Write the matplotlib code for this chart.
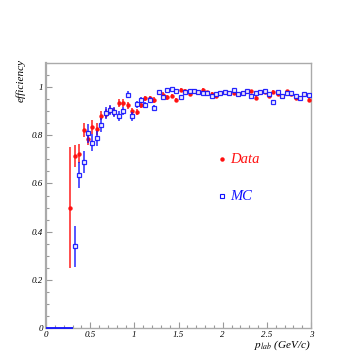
"""
efficiency vs p_lab, data vs MC
"""

import numpy as np
import matplotlib.pyplot as plt
from matplotlib.ticker import MultipleLocator

# bin centres (GeV/c)
p_data = [0.275, 0.325, 0.375, 0.425, 0.475, 0.525, 0.575, 0.625, 0.675, 0.725,
          0.775, 0.825, 0.875, 0.925, 0.975, 1.025, 1.075, 1.125, 1.175, 1.225,
          1.275, 1.325, 1.375, 1.425, 1.475, 1.525, 1.575, 1.625, 1.675, 1.725,
          1.775, 1.825, 1.875, 1.925, 1.975, 2.025, 2.075, 2.125, 2.175, 2.225,
          2.275, 2.325, 2.375, 2.425, 2.475, 2.525, 2.575, 2.625, 2.675, 2.725,
          2.775, 2.825, 2.875, 2.925, 2.975]
eff_data = [0.500, 0.714, 0.724, 0.821, 0.783, 0.835, 0.826, 0.882, 0.890, 0.905,
            0.896, 0.933, 0.933, 0.925, 0.901, 0.897, 0.925, 0.953, 0.953, 0.947,
            0.980, 0.969, 0.957, 0.964, 0.945, 0.989, 0.984, 0.971, 0.983, 0.978,
            0.989, 0.978, 0.971, 0.961, 0.975, 0.978, 0.975, 0.975, 0.971, 0.975,
            0.983, 0.983, 0.953, 0.978, 0.980, 0.961, 0.980, 0.970, 0.964, 0.983,
            0.971, 0.953, 0.953, 0.970, 0.947]
err_data = [0.250, 0.045, 0.040, 0.030, 0.025, 0.030, 0.025, 0.020, 0.020, 0.018,
            0.018, 0.016, 0.016, 0.015, 0.014, 0.014, 0.013, 0.012, 0.012, 0.011,
            0.009, 0.009, 0.009, 0.008, 0.008, 0.008, 0.008, 0.008, 0.007, 0.007,
            0.007, 0.007, 0.007, 0.007, 0.007, 0.007, 0.007, 0.007, 0.007, 0.007,
            0.007, 0.007, 0.008, 0.007, 0.007, 0.008, 0.007, 0.008, 0.008, 0.007,
            0.008, 0.008, 0.008, 0.008, 0.008]

p_mc = p_data[1:]
eff_mc = [0.340, 0.635, 0.690, 0.808, 0.770, 0.787, 0.843, 0.894, 0.905, 0.896,
          0.881, 0.901, 0.968, 0.878, 0.929, 0.946, 0.926, 0.947, 0.915, 0.980,
          0.959, 0.989, 0.992, 0.985, 0.960, 0.978, 0.985, 0.985, 0.980, 0.975,
          0.975, 0.964, 0.971, 0.975, 0.978, 0.975, 0.989, 0.971, 0.975, 0.983,
          0.964, 0.975, 0.980, 0.985, 0.970, 0.940, 0.978, 0.964, 0.975, 0.975,
          0.964, 0.953, 0.970, 0.967]
err_mc = [0.085, 0.055, 0.045, 0.040, 0.035, 0.030, 0.028, 0.025, 0.022, 0.020,
          0.020, 0.018, 0.015, 0.017, 0.015, 0.014, 0.013, 0.012, 0.012, 0.008,
          0.008, 0.007, 0.006, 0.006, 0.007, 0.006, 0.006, 0.006, 0.006, 0.006,
          0.006, 0.006, 0.006, 0.006, 0.006, 0.006, 0.006, 0.006, 0.006, 0.006,
          0.006, 0.006, 0.006, 0.006, 0.006, 0.007, 0.006, 0.006, 0.006, 0.006,
          0.006, 0.006, 0.006, 0.006]

# MC bins below threshold (empty)
p_mc_low = [0.025, 0.075, 0.125, 0.175, 0.225, 0.275]
eff_mc_low = [0, 0, 0, 0, 0, 0]

xticks = [0, 0.5, 1, 1.5, 2, 2.5, 3]
xticklabels = ['0', '0.5', '1', '1.5', '2', '2.5', '3']
yticks = [0, 0.2, 0.4, 0.6, 0.8, 1.0]
yticklabels = ['0', '0.2', '0.4', '0.6', '0.8', '1']

RED = '#ff1010'
BLUE = '#1010ff'
SERIF = 'Liberation Serif'

fig = plt.figure(figsize=(3.54, 3.54), dpi=100)
ax = fig.add_axes([0.130, 0.0734, 0.7486, 0.7486])

low = ax.errorbar(p_mc_low, eff_mc_low, xerr=0.025, fmt='none', ecolor=BLUE,
                  elinewidth=1.3, zorder=6)
for art in low.get_children():
    art.set_clip_on(False)
ax.errorbar(p_data, eff_data, yerr=err_data, xerr=0.012, fmt='o', color=RED, ms=2.2,
            ecolor=RED, elinewidth=1.1, capsize=0, alpha=0.95, zorder=3)
ax.errorbar(p_mc, eff_mc, yerr=err_mc, fmt='s', mfc='white', mec=BLUE, mew=0.9, ms=3.0,
            ecolor=BLUE, elinewidth=1.1, capsize=0, alpha=0.9, zorder=4)

ax.set_xlim(0, 3)
ax.set_ylim(0, 1.1)
ax.set_xticks(xticks)
ax.set_xticklabels(xticklabels)
ax.set_yticks(yticks)
ax.set_yticklabels(yticklabels)
ax.xaxis.set_minor_locator(MultipleLocator(0.1))
ax.yaxis.set_minor_locator(MultipleLocator(0.05))
ax.tick_params(which='both', direction='in', color='#999999', width=0.8)
ax.tick_params(which='major', length=4, pad=2)
ax.tick_params(which='minor', length=2)
for lab in ax.get_xticklabels() + ax.get_yticklabels():
    lab.set_family(SERIF)
    lab.set_style('italic')
    lab.set_fontsize(6.5)
for s in ax.spines.values():
    s.set_color('#aaaaaa')
    s.set_linewidth(1.0)
ax.spines['left'].set_linewidth(1.6)

ax.text(-0.094, 0.935, 'efficiency', transform=ax.transAxes, rotation=90,
        ha='center', va='center', family=SERIF, style='italic', fontsize=8)
ax.text(1.0, -0.064, r'$p_{lab}$ (GeV/c)', transform=ax.transAxes, ha='right',
        va='center', family=SERIF, style='italic', fontsize=8,
        math_fontfamily='stix')

# legend
ax.plot([1.996], [0.7], 'o', color=RED, ms=2.2)
ax.text(2.09, 0.70, 'Data', color=RED, family=SERIF, style='italic', fontsize=10.5,
        va='center', ha='left')
ax.plot([1.996], [0.547], 's', mfc='white', mec=BLUE, mew=0.8, ms=3.0)
ax.text(2.09, 0.547, 'MC', color=BLUE, family=SERIF, style='italic', fontsize=10.5,
        va='center', ha='left')

fig.savefig('out.png', dpi=100)
